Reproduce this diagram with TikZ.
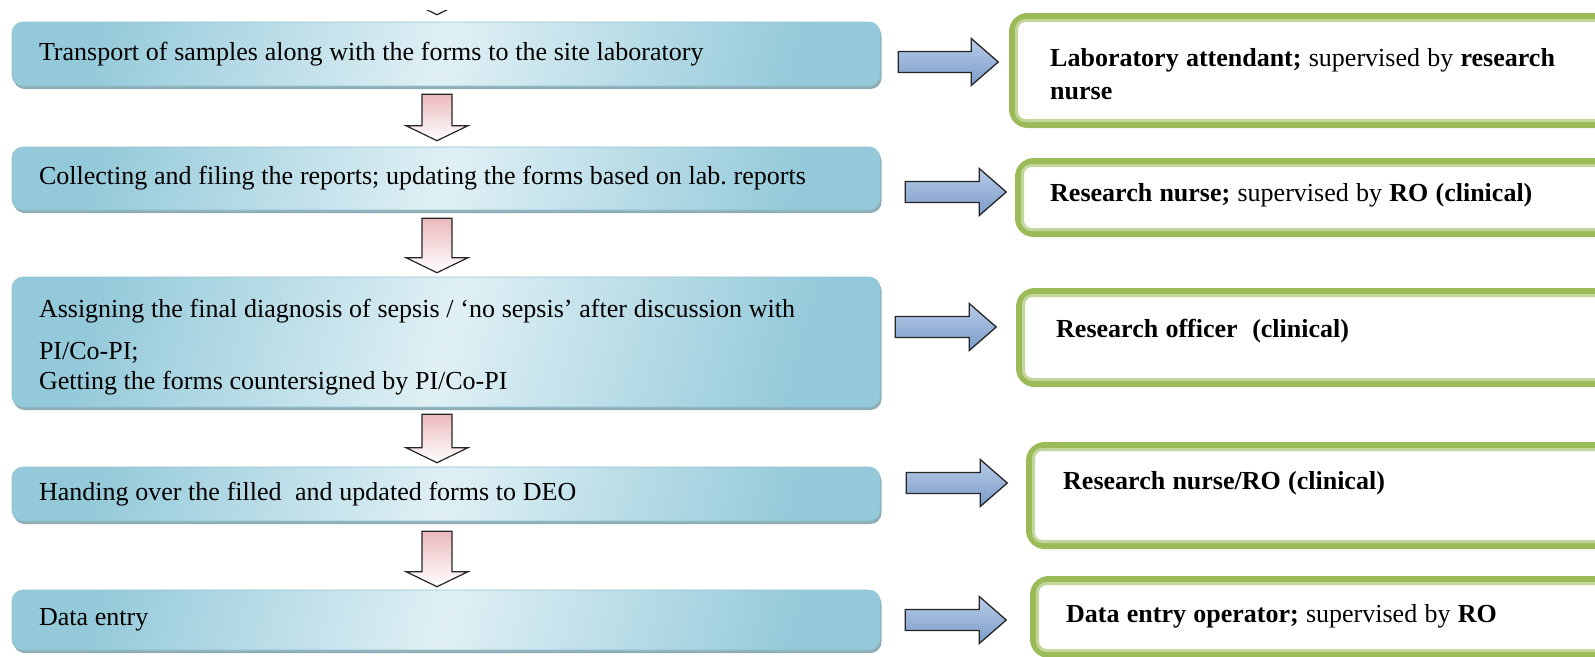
\documentclass[tikz,border=0pt]{standalone}
\usepackage{fontspec}
\setmainfont{Liberation Serif}
\usetikzlibrary{calc,fit,shadows}

\definecolor{cyanedge}{HTML}{93C9D9}
\definecolor{cyanpale}{HTML}{E0F0F5}
\definecolor{cyanrim}{HTML}{8FC3D2}
\definecolor{cyanshadow}{HTML}{7B9FA9}
\definecolor{framegreen}{HTML}{9BBB59}
\definecolor{framegreenlight}{HTML}{C3D69B}
\definecolor{rightfilltop}{HTML}{B8CCE6}
\definecolor{rightfillbot}{HTML}{7B9BCB}
\definecolor{downpink}{HTML}{E4A3A7}
\definecolor{outlinedark}{HTML}{262626}

% block arrow pointing down, from a tail point to a tip point (x taken from the tail)
\newcommand\flowdown[2]{%
  \path[downblock] let \p1=(#1), \p2=(#2) in
    (\x1-15pt,\y1) -- (\x1+15pt,\y1) -- (\x1+15pt,\y2+15pt) -- (\x1+31pt,\y2+15pt)
    -- (\x1,\y2) -- (\x1-31pt,\y2+15pt) -- (\x1-15pt,\y2+15pt) -- cycle;}

% block arrow pointing right, from a tail point to the x of a target point
\newcommand\flowright[2]{%
  \path[rightblock] let \p1=(#1), \p2=(#2) in
    (\x1,\y1+10.5pt) -- (\x2-27pt,\y1+10.5pt) -- (\x2-27pt,\y1+23.5pt) -- (\x2,\y1)
    -- (\x2-27pt,\y1-23.5pt) -- (\x2-27pt,\y1-10.5pt) -- (\x1,\y1-10.5pt) -- cycle;}

% word spacing for the step texts and for the role texts
\newcommand\stepspace{\spaceskip=0.26em plus 0.05em minus 0.03em\xspaceskip=0.26em\relax}
\newcommand\rolespace{\spaceskip=0.28em plus 0.05em minus 0.03em\xspaceskip=0.28em\relax}
\newcommand\flowfont{\fontsize{26pt}{30pt}\selectfont}

\begin{document}
\begin{tikzpicture}[x=1pt,y=1pt,
  every node/.style={font=\flowfont},
  stepbox/.style={rectangle, rounded corners=11pt, draw=cyanrim, line width=0.6pt,
    left color=cyanedge, right color=cyanedge, middle color=cyanpale, shading angle=75,
    inner xsep=27pt, inner ysep=0pt, text width=814pt,
    drop shadow={shadow xshift=1.5pt, shadow yshift=-3pt, fill=cyanshadow, opacity=.85}},
  frame/.style={rectangle, draw=framegreen, line width=7.5pt, rounded corners=15pt,
    fill=white, inner sep=0pt},
  frameline/.style={draw=framegreenlight, line width=3pt, rounded corners=9pt},
  roletext/.style={anchor=west, inner sep=0pt, align=left, font=\flowfont\rolespace},
  downblock/.style={draw=outlinedark, line width=1.2pt, line join=miter,
    top color=downpink!75!white, middle color=downpink, bottom color=white},
  rightblock/.style={draw=outlinedark, line width=1.3pt, line join=miter,
    top color=rightfilltop, bottom color=rightfillbot}]

\useasboundingbox (0,0) rectangle (1595,-656);
\clip (0,0) rectangle (1595,-656);
\fill[white] (0,0) rectangle (1595,-656);

% process steps
\node[stepbox, minimum height=64pt] (b1) at (446,-54)
  {\stepspace Transport of samples along with the forms to the site laboratory};
\node[stepbox, minimum height=63pt] (b2) at (446,-178.5)
  {\stepspace Collecting and filing the reports; updating the forms based on lab. reports};
\node[stepbox, minimum height=130pt] (b3) at (446,-342)
  {\stepspace\rule{0pt}{29pt}Assigning the final diagnosis of sepsis / ‘no sepsis’ after discussion with\\[12pt]
   PI/Co-PI;\\
   Getting the forms countersigned by PI/Co-PI};
\node[stepbox, minimum height=54pt] (b4) at (446,-494)
  {\stepspace Handing over the filled~ and updated forms to DEO};
\node[stepbox, minimum height=60pt] (b5) at (446,-620)
  {\stepspace Data entry};

% responsibility frames
\node[frame, fit={(1012.75,-16.75) (1620,-124.25)}] (g1) {};
\node[frame, fit={(1018.75,-161.75) (1620,-233.25)}] (g2) {};
\node[frame, fit={(1019.75,-291.75) (1620,-383.25)}] (g3) {};
\node[frame, fit={(1029.75,-445.75) (1620,-545.25)}] (g4) {};
\node[frame, fit={(1033.75,-579.75) (1620,-654.25)}] (g5) {};
\foreach \g in {g1,g2,g3,g4,g5}
  \draw[frameline] ($(\g.north west)+(7.5pt,-7.5pt)$) rectangle ($(\g.south east)+(-7.5pt,7.5pt)$);

\node[roletext] (t1) at (1050,-74.5)
  {\textbf{Laboratory attendant;} supervised by \textbf{research}\\[3pt]\textbf{nurse}};
\node[roletext] (t2) at (1050,-195)
  {\textbf{Research nurse;} supervised by \textbf{RO (clinical)}};
\node[roletext] (t3) at (1056,-331)
  {\textbf{Research officer~ (clinical)}};
\node[roletext] (t4) at (1063,-483)
  {\textbf{Research nurse/RO (clinical)}};
\node[roletext] (t5) at (1066,-616)
  {\textbf{Data entry operator;} supervised by \textbf{RO}};

% downward flow between steps; the one coming from above shows only its tip
\coordinate (incoming) at (437,30);
\begin{scope}
  \clip (0,-10) rectangle (1595,-656);
  \flowdown{incoming}{$(b1.north)+(-9pt,7pt)$};
\end{scope}
\flowdown{$(b1.south)+(-9pt,-8pt)$}{$(b2.north)+(-9pt,6pt)$};
\flowdown{$(b2.south)+(-9pt,-8pt)$}{$(b3.north)+(-9pt,4pt)$};
\flowdown{$(b3.south)+(-9pt,-7pt)$}{$(b4.north)+(-9pt,4pt)$};
\flowdown{$(b4.south)+(-9pt,-10pt)$}{$(b5.north)+(-9pt,3pt)$};

% step to responsible person
\flowright{$(b1.east)+(18pt,-8pt)$}{$(g1.west)+(-10.75pt,0)$};
\flowright{$(b2.east)+(25pt,-13.5pt)$}{$(g2.west)+(-8.75pt,0)$};
\flowright{$(b3.east)+(15pt,15pt)$}{$(g3.west)+(-19.75pt,0)$};
\flowright{$(b4.east)+(26pt,11pt)$}{$(g4.west)+(-18.75pt,0)$};
\flowright{$(b5.east)+(25pt,0pt)$}{$(g5.west)+(-23.75pt,0)$};

\end{tikzpicture}
\end{document}
